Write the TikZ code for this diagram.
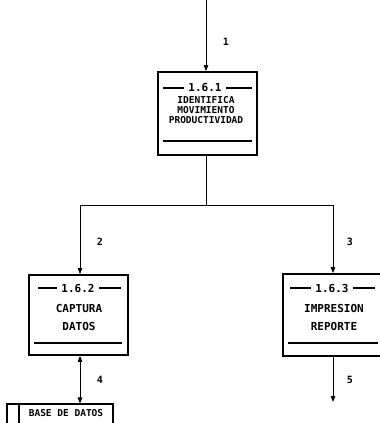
\documentclass[tikz,border=0pt]{standalone}
\usepackage{fontspec}
\newfontfamily\dmfont{DejaVu Sans Mono}
\usetikzlibrary{arrows.meta}
\begin{document}
\begin{tikzpicture}[x=1pt,y=-1pt,
  proc/.style={draw,line width=1.8pt,minimum width=#1,inner sep=0pt},
  flow/.style={line width=0.9pt},
  tip/.style={-{Triangle[length=6pt,width=4.5pt]}},
  txt/.style={font=\dmfont\bfseries\fontsize{11}{11}\selectfont,inner sep=0pt},
  num/.style={font=\dmfont\bfseries\fontsize{10}{10}\selectfont,inner sep=0pt},
  sep/.style={line width=1.1pt}]
\useasboundingbox (0,0) rectangle (380,423);
\clip (0,0) rectangle (380,423);
% boxes
\node[proc=99pt,minimum height=83pt] (b1) at (207.5,113.5) {};
\node[proc=99pt,minimum height=80pt] (b2) at (78.5,315) {};
\node[proc=98pt,minimum height=82pt] (b3) at (332,315) {};
% box 1 content
\node[txt] (n1) at (205,88) {1.6.1};
\draw[sep] (163,88) -- ([xshift=-4pt]n1.west);
\draw[sep] ([xshift=4pt]n1.east) -- (252,88);
\node[txt,align=center,font=\dmfont\bfseries\fontsize{9.5}{10}\selectfont] (t1) at (206,110) {IDENTIFICA\\MOVIMIENTO\\PRODUCTIVIDAD};
\draw[sep] (163,141) -- (252,141);
% box 2 content
\node[txt] (n2) at (78,288) {1.6.2};
\draw[sep] (38,288) -- ([xshift=-4pt]n2.west);
\draw[sep] ([xshift=4pt]n2.east) -- (121,288);
\node[txt] (t2a) at (79,308) {CAPTURA};
\node[txt] (t2b) at (79,326) {DATOS};
\draw[sep] (34,343) -- (122,343);
% box 3 content
\node[txt] (n3) at (332,288) {1.6.3};
\draw[sep] (290,288) -- ([xshift=-4pt]n3.west);
\draw[sep] ([xshift=4pt]n3.east) -- (375,288);
\node[txt] (t3a) at (334,308) {IMPRESION};
\node[txt] (t3b) at (334,326) {REPORTE};
\draw[sep] (288,343) -- (378,343);
% data store
\node[draw,line width=1.1pt,minimum width=106pt,minimum height=30pt,inner sep=0pt] (db) at (60,419) {};
\draw[line width=1.1pt] (19,404) -- (19,430);
\node[txt,font=\dmfont\bfseries\fontsize{9.5}{9.5}\selectfont] (dbt) at (66,413) {BASE DE DATOS};
% connectors
\coordinate (top) at (206,0);
\coordinate (j) at (206,205);
\coordinate (out5) at (333,402);
\draw[flow,tip] (top) -- (top |- b1.north);
\draw[flow] (b1.south -| j) -- (j);
\draw[flow,tip] (j) -| ([xshift=1.5pt]b2.north);
\draw[flow,tip] (j) -| ([xshift=1pt]b3.north);
\draw[flow,{Triangle[length=6pt,width=4.5pt]}-{Triangle[length=6pt,width=4.5pt]}] ([xshift=1.5pt]b2.south) -- ([xshift=1.5pt]b2.south |- db.north);
\draw[flow,tip] ([xshift=1pt]b3.south) -- (out5);
% labels
\node[num] (l1) at (226,42) {1};
\node[num] (l2) at (100,242) {2};
\node[num] (l3) at (350,242) {3};
\node[num] (l4) at (100,380) {4};
\node[num] (l5) at (350,380) {5};
\end{tikzpicture}
\end{document}
